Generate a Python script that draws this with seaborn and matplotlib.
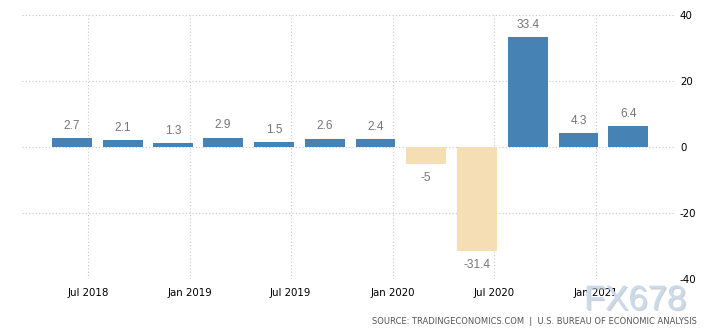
import matplotlib
matplotlib.use("Agg")
import matplotlib.pyplot as plt
import matplotlib.dates as mdates
import matplotlib.patheffects as pe
import seaborn as sns
import pandas as pd

# Quarterly GDP growth (annualized, %), bars placed at the last month of each quarter
quarters = ["2018-06-01", "2018-09-01", "2018-12-01", "2019-03-01", "2019-06-01",
            "2019-09-01", "2019-12-01", "2020-03-01", "2020-06-01", "2020-09-01",
            "2020-12-01", "2021-03-01"]
growth = [2.7, 2.1, 1.3, 2.9, 1.5, 2.6, 2.4, -5, -31.4, 33.4, 4.3, 6.4]

tick_dates = ["2018-07-01", "2019-01-01", "2019-07-01", "2020-01-01", "2020-07-01", "2021-01-01"]
tick_labels = ["Jul 2018", "Jan 2019", "Jul 2019", "Jan 2020", "Jul 2020", "Jan 2021"]
y_ticks = [-40, -20, 0, 20, 40]
y_labels = ["-40", "-20", "0", "20", "40"]

POS_COLOR = "#4682B4"
NEG_COLOR = "#F5DEB3"
GRID_COLOR = "#c8c8c8"

df = pd.DataFrame({
    "date": mdates.date2num(pd.to_datetime(quarters)),
    "growth": growth,
})
df["sign"] = ["up" if v >= 0 else "down" for v in df["growth"]]

sns.set_theme(style="white")
plt.rcParams["axes.unicode_minus"] = False

fig = plt.figure(figsize=(7.05, 3.36), dpi=100)
ax = fig.add_axes([21.7 / 705, 1 - 279.3 / 336, (675 - 21.7) / 705, (279.3 - 15) / 336])

sns.barplot(data=df, x="date", y="growth", hue="sign",
            palette={"up": POS_COLOR, "down": NEG_COLOR},
            native_scale=True, width=0.8, legend=False, saturation=1,
            linewidth=0, edgecolor="none", ax=ax, zorder=3)

# value labels above positive bars, below negative bars
for xv, v in zip(df["date"], df["growth"]):
    off = 8.8 if v >= 0 else -10.0
    ax.annotate(f"{v:g}", (xv, v), xytext=(0, off), textcoords="offset points",
                ha="center", va="center", fontsize=8.6, color="#757575",
                family=["Liberation Sans", "DejaVu Sans"])

xmin = mdates.date2num(pd.Timestamp("2018-03-03"))
xmax = mdates.date2num(pd.Timestamp("2021-05-24"))
ax.set_xlim(xmin, xmax)
ax.set_ylim(-40, 40)

ax.set_xticks(mdates.date2num(pd.to_datetime(tick_dates)))
ax.set_xticklabels(tick_labels)
ax.set_yticks(y_ticks)
ax.set_yticklabels(y_labels)
ax.yaxis.tick_right()

ax.tick_params(axis="both", length=0, labelsize=7.4, labelcolor="black")
ax.tick_params(axis="x", pad=6.5)
ax.tick_params(axis="y", pad=3.6)
for lab in ax.get_xticklabels() + ax.get_yticklabels():
    lab.set_family("DejaVu Sans")

ax.grid(True, color=GRID_COLOR, linewidth=0.8, linestyle=(0, (1, 2)), zorder=0)
ax.set_axisbelow(True)
for s in ax.spines.values():
    s.set_visible(False)
ax.set_xlabel("")
ax.set_ylabel("")
ax.patch.set_alpha(0)

fig.text(635 / 705, 1 - 300 / 336, "FX678", ha="center", va="center",
         fontsize=25, color="#cbdbeb", family="Liberation Sans",
         path_effects=[pe.withSimplePatchShadow(offset=(1, -1), shadow_rgbFace="#9aa4ae", alpha=0.5)])

fig.text(697 / 705, 1 - 321 / 336,
         "SOURCE: TRADINGECONOMICS.COM  |  U.S. BUREAU OF ECONOMIC ANALYSIS",
         ha="right", va="center", fontsize=6.0, color="#555555", family="DejaVu Sans")

fig.savefig("out.png", dpi=100)
